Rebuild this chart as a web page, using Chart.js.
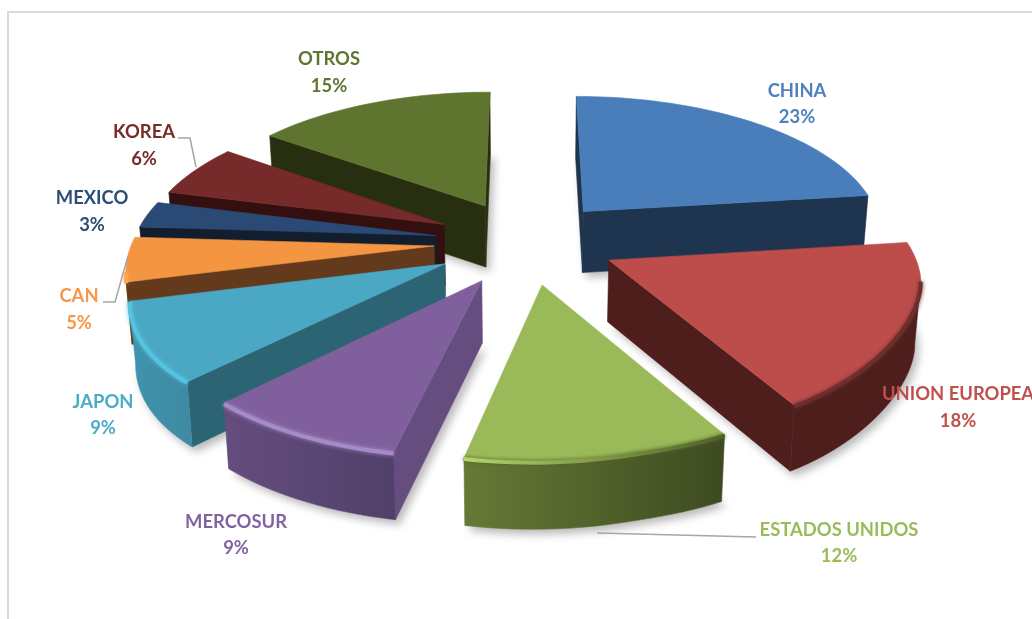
<!DOCTYPE html>
<html>
  <head>
    <meta charset="utf-8">
    <title>Pie 3D</title>
    <script src="https://cdn.jsdelivr.net/npm/chart.js@4/dist/chart.umd.js"></script>
    <style>
      html, body { margin: 0; padding: 0; background: #fff; overflow: hidden; }
      #frame { position: absolute; left: 7px; top: 11px; width: 1100px; height: 700px;
               border-left: 2px solid #d9d9d9; border-top: 2px solid #d9d9d9; }
      #chart { position: absolute; left: 0; top: 0; }
    </style>
  </head>
  <body>
    <div id="frame"></div>
    <canvas id="chart" width="1032" height="619"></canvas>
    <script>
      var categories = ['CHINA', 'UNION EUROPEA', 'ESTADOS UNIDOS', 'MERCOSUR', 'JAPON', 'CAN', 'MEXICO', 'KOREA', 'OTROS'];
      var shares = [23, 18, 12, 9, 9, 5, 3, 6, 15];

      var topColors = ['#4a7ebb', '#bd4d4a', '#9aba59', '#7f609c', '#4ba8c4', '#f49542', '#2a4a75', '#772a2a', '#5f752f'];
      var sideColors = ['#1f344e', '#4d1e1c', '#3d4a20', '#654d80', '#2c6473', '#633a1c', '#121e2e', '#330f0f', '#272f10'];
      var rimLeftColors = ['#1f344e', '#4d1e1c', '#667a36', '#654d7d', '#3f94ae', '#633a1c', '#121e2e', '#330f0f', '#272f10'];
      var rimRightColors = ['#1f344e', '#4d1e1c', '#3d4a20', '#50406a', '#3f8aa3', '#633a1c', '#121e2e', '#330f0f', '#272f10'];
      var bevelLeftColors = [null, '#6e2e2c', '#b5d36a', '#a68bc9', '#55c3e3', '#ffa84f', null, null, null];
      var bevelRightColors = [null, '#6e2e2c', '#4f6128', '#a68bc9', '#55c3e3', '#ffa84f', null, null, null];
      var labelColors = ['#4f81bd', '#c0504d', '#9bbb59', '#8064a2', '#4bacc6', '#f79646', '#2c4d75', '#772c2a', '#5f7530'];

      // where excel left the data labels: center x, name baseline, percent baseline
      var labelSpots = [[797, 97, 123], [958, 400, 427], [839, 536, 562], [236, 528, 554], [103, 408, 434],
                        [79, 302, 329], [92, 204, 231], [144, 138, 165], [329, 65, 92]];
      var leaderLines = [
        [[178, 138], [190, 138], [196, 167]],
        [[103, 302], [115, 302], [128, 256]],
        [[597, 533], [756, 537]]
      ];

      var view = {cx: 525, cy: 242, sx: 302, sy: 139, persp: 0.139, skew: 13, sag: 7, depth: 61, depthGrow: 0.03, bottomScale: 0.985};

      function smooth(a, b, x) {
        var t = Math.min(1, Math.max(0, (x - a) / (b - a)));
        return t * t * (3 - 2 * t);
      }

      function project(u, v) {
        var s = 1 / (1 - view.persp * v);
        // the front of the excel pie leans to the left and sags on the right
        var lean = view.skew * smooth(0.2, 0.9, v);
        var sag = view.sag * smooth(0.3, 0.8, u) * smooth(0.3, 1, v);
        return {x: view.cx + view.sx * u * s - lean, y: view.cy + view.sy * v * s + sag};
      }

      function below(p) {
        var d = view.depth + Math.max(0, p.y - view.cy) * view.depthGrow;
        return {x: view.cx + (p.x - view.cx) * view.bottomScale, y: p.y + d};
      }

      // apex and outer arc of one slice on screen, from the arc element chart.js laid out
      function sliceOutline(el) {
        var r = el.outerRadius;
        var mid = (el.startAngle + el.endAngle) / 2;
        var off = el.options.offset / r;
        var ox = Math.cos(mid) * off, oy = Math.sin(mid) * off;
        var steps = Math.max(6, Math.round((el.endAngle - el.startAngle) * 30));
        var arc = [];
        for (var i = 0; i <= steps; i++) {
          var a = el.startAngle + (el.endAngle - el.startAngle) * i / steps;
          arc.push(project(ox + Math.cos(a), oy + Math.sin(a)));
        }
        return {apex: project(ox, oy), arc: arc, depthKey: oy};
      }

      function tracePoly(ctx, pts) {
        ctx.beginPath();
        pts.forEach(function (p, i) {
          if (i == 0) ctx.moveTo(p.x, p.y); else ctx.lineTo(p.x, p.y);
        });
        ctx.closePath();
      }

      function fillPoly(ctx, pts, color) {
        tracePoly(ctx, pts);
        ctx.fillStyle = color;
        ctx.fill();
        ctx.strokeStyle = color;
        ctx.lineWidth = 0.6;
        ctx.stroke();
      }

      // runs of the outer arc that face the viewer
      function frontRuns(arc) {
        var runs = [], run = null;
        for (var i = 0; i < arc.length - 1; i++) {
          if (arc[i + 1].x < arc[i].x) {
            if (!run) { run = [arc[i]]; runs.push(run); }
            run.push(arc[i + 1]);
          } else {
            run = null;
          }
        }
        return runs;
      }

      function xGradient(ctx, x0, x1, right, left) {
        var g = ctx.createLinearGradient(x0, 0, x1, 0);
        g.addColorStop(0, left);
        g.addColorStop(1, right);
        return g;
      }

      function drawSlice(ctx, s, i) {
        var arc = s.arc, apex = s.apex;
        var start = arc[0], end = arc[arc.length - 1];

        if (start.x < apex.x) fillPoly(ctx, [apex, start, below(start), below(apex)], sideColors[i]);
        if (apex.x < end.x) fillPoly(ctx, [end, apex, below(apex), below(end)], sideColors[i]);

        var runs = frontRuns(arc);
        runs.forEach(function (run) {
          var lo = run[run.length - 1].x, hi = run[0].x;
          var wall = run.concat(run.map(below).reverse());
          fillPoly(ctx, wall, xGradient(ctx, lo, hi, rimRightColors[i], rimLeftColors[i]));
        });

        fillPoly(ctx, [apex].concat(arc), topColors[i]);

        if (bevelLeftColors[i]) {
          runs.forEach(function (run) {
            var lo = run[run.length - 1].x, hi = run[0].x;
            ctx.save();
            ctx.beginPath();
            run.forEach(function (p, k) {
              if (k == 0) ctx.moveTo(p.x, p.y + 1); else ctx.lineTo(p.x, p.y + 1);
            });
            ctx.strokeStyle = xGradient(ctx, lo, hi, bevelRightColors[i], bevelLeftColors[i]);
            ctx.lineWidth = 4;
            ctx.lineJoin = 'round';
            ctx.shadowColor = bevelRightColors[i];
            ctx.shadowBlur = 4;
            ctx.stroke();
            ctx.restore();
          });
        }
      }

      var pie3d = {
        id: 'pie3d',
        beforeDatasetsDraw: function (chart) {
          var ctx = chart.ctx;
          var slices = chart.getDatasetMeta(0).data.map(function (el, i) {
            var s = sliceOutline(el);
            s.index = i;
            return s;
          });

          // soft shadow under every slice goes down first
          ctx.save();
          ctx.shadowColor = 'rgba(0,0,0,0.28)';
          ctx.shadowBlur = 9;
          ctx.shadowOffsetX = 4;
          ctx.shadowOffsetY = 5;
          slices.forEach(function (s) {
            tracePoly(ctx, [s.apex].concat(s.arc).map(below));
            ctx.fillStyle = '#fff';
            ctx.fill();
          });
          ctx.restore();

          // back slices first so the front ones cover them
          slices.slice().sort(function (a, b) { return a.depthKey - b.depthKey; }).forEach(function (s) {
            drawSlice(ctx, s, s.index);
          });

          ctx.save();
          ctx.strokeStyle = '#a6a6a6';
          ctx.lineWidth = 1.5;
          leaderLines.forEach(function (line) {
            ctx.beginPath();
            line.forEach(function (p, k) {
              if (k == 0) ctx.moveTo(p[0], p[1]); else ctx.lineTo(p[0], p[1]);
            });
            ctx.stroke();
          });
          ctx.font = 'bold 18.4px Lato';
          ctx.textAlign = 'center';
          ctx.textBaseline = 'alphabetic';
          categories.forEach(function (name, i) {
            ctx.fillStyle = labelColors[i];
            ctx.fillText(name, labelSpots[i][0], labelSpots[i][1]);
            ctx.fillText(shares[i] + '%', labelSpots[i][0], labelSpots[i][2]);
          });
          ctx.restore();

          return false;
        }
      };

      new Chart(document.getElementById('chart'), {
        type: 'pie',
        data: {
          labels: categories,
          datasets: [{
            data: shares,
            backgroundColor: topColors,
            borderWidth: 0,
            offset: 81
          }]
        },
        options: {
          responsive: false,
          animation: false,
          plugins: {legend: {display: false}, tooltip: {enabled: false}}
        },
        plugins: [pie3d]
      });
    </script>
  </body>
</html>
